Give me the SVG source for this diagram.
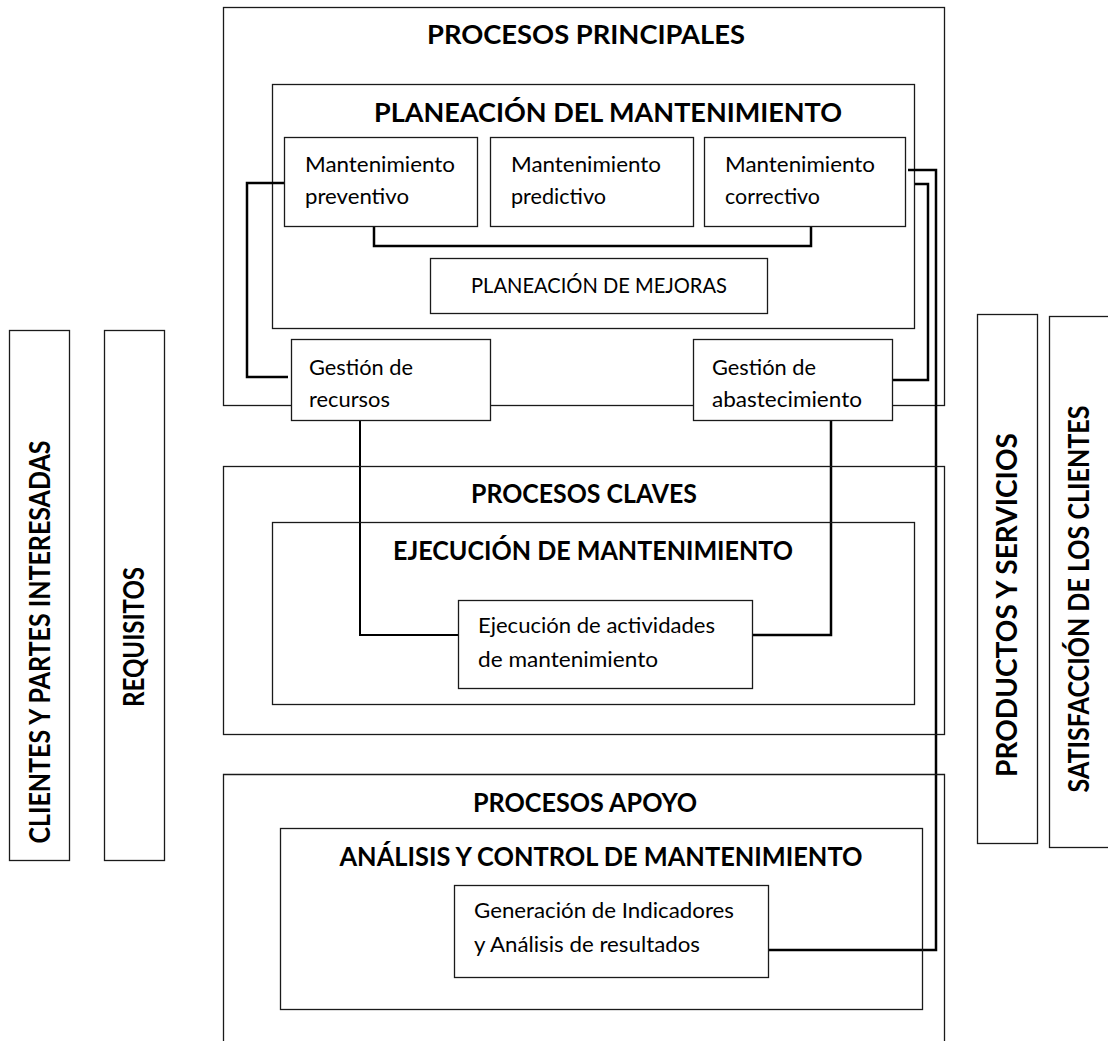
<svg xmlns="http://www.w3.org/2000/svg" width="1108" height="1041" viewBox="0 0 1108 1041">
<style>
.box{fill:#fff;stroke:#1a1a1a;stroke-width:1.3}
.open{fill:none;stroke:#1a1a1a;stroke-width:1.3}
.title{font-family:Lato,"Liberation Sans",sans-serif;font-weight:bold;font-size:26px;fill:#000;text-anchor:middle}
.vt{font-size:28px}
.body{font-family:Lato,"Liberation Sans",sans-serif;font-size:20.5px;fill:#000}
.mid{text-anchor:middle}
.conn{fill:none;stroke:#000;stroke-width:2.5}
.connt{fill:none;stroke:#000;stroke-width:2}
</style>
<rect width="1108" height="1041" fill="#fff"/>

<g id="clientes">
<rect class="box" x="9.5" y="330.5" width="60" height="530"/>
<text class="title vt" transform="translate(50,642) rotate(-90)" textLength="403" lengthAdjust="spacingAndGlyphs">CLIENTES Y PARTES INTERESADAS</text>
</g>
<g id="requisitos">
<rect class="box" x="104.5" y="330.5" width="60" height="530"/>
<text class="title vt" transform="translate(144,637) rotate(-90)" textLength="140" lengthAdjust="spacingAndGlyphs">REQUISITOS</text>
</g>
<g id="productos">
<rect class="box" x="977.5" y="314.5" width="60" height="529"/>
<text class="title vt" transform="translate(1017,605) rotate(-90)" textLength="344" lengthAdjust="spacingAndGlyphs">PRODUCTOS Y SERVICIOS</text>
</g>
<g id="satisfaccion">
<rect class="box" x="1049.5" y="316.5" width="80" height="531"/>
<text class="title vt" transform="translate(1089,599) rotate(-90)" textLength="387" lengthAdjust="spacingAndGlyphs">SATISFACCIÓN DE LOS CLIENTES</text>
</g>

<g id="procesos-principales">
<rect class="box" x="223.5" y="7.5" width="721" height="398"/>
<text class="title" x="586" y="44" textLength="318" lengthAdjust="spacingAndGlyphs">PROCESOS PRINCIPALES</text>
</g>
<g id="planeacion">
<rect class="box" x="272.5" y="84.5" width="642" height="244"/>
<text class="title" x="608" y="122" textLength="468" lengthAdjust="spacingAndGlyphs">PLANEACIÓN DEL MANTENIMIENTO</text>
</g>

<g id="connectors">
<polyline class="conn" points="284,183 247,183 247,377 288,377"/>
<polyline class="conn" points="374,226 374,246 811,246 811,226"/>
<polyline class="conn" points="908,170 936,170 936,950 768,950"/>
<polyline class="conn" points="915,184 928,184 928,380 893,380"/>
<polyline class="connt" points="360,420 360,635 458,635"/>
<polyline class="conn" points="831,420 831,635 752,635"/>
</g>

<g id="mant-preventivo">
<rect class="box" x="284.5" y="137.5" width="193" height="89"/>
<text class="body" x="305" y="172" textLength="150" lengthAdjust="spacingAndGlyphs">Mantenimiento</text>
<text class="body" x="305" y="204" textLength="104" lengthAdjust="spacingAndGlyphs">preventivo</text>
</g>
<g id="mant-predictivo">
<rect class="box" x="490.5" y="137.5" width="203" height="89"/>
<text class="body" x="511" y="172" textLength="150" lengthAdjust="spacingAndGlyphs">Mantenimiento</text>
<text class="body" x="511" y="204" textLength="95" lengthAdjust="spacingAndGlyphs">predictivo</text>
</g>
<g id="mant-correctivo">
<rect class="box" x="704.5" y="137.5" width="201" height="89"/>
<text class="body" x="725" y="172" textLength="150" lengthAdjust="spacingAndGlyphs">Mantenimiento</text>
<text class="body" x="725" y="204" textLength="95" lengthAdjust="spacingAndGlyphs">correctivo</text>
</g>
<g id="planeacion-mejoras">
<rect class="box" x="430.5" y="258.5" width="337" height="55"/>
<text class="body mid" x="599" y="293" textLength="256" lengthAdjust="spacingAndGlyphs">PLANEACIÓN DE MEJORAS</text>
</g>
<g id="gestion-recursos">
<rect class="box" x="291.5" y="339.5" width="199" height="81"/>
<text class="body" x="309" y="375" textLength="104" lengthAdjust="spacingAndGlyphs">Gestión de</text>
<text class="body" x="309" y="407" textLength="81" lengthAdjust="spacingAndGlyphs">recursos</text>
</g>
<g id="gestion-abastecimiento">
<rect class="box" x="693.5" y="339.5" width="199" height="81"/>
<text class="body" x="712" y="375" textLength="104" lengthAdjust="spacingAndGlyphs">Gestión de</text>
<text class="body" x="712" y="407" textLength="150" lengthAdjust="spacingAndGlyphs">abastecimiento</text>
</g>

<g id="procesos-claves">
<rect class="open" x="223.5" y="466.5" width="721" height="268"/>
<text class="title" x="584" y="503" textLength="226" lengthAdjust="spacingAndGlyphs">PROCESOS CLAVES</text>
</g>
<g id="ejecucion">
<rect class="open" x="272.5" y="522.5" width="642" height="182"/>
<text class="title" x="593" y="560" textLength="400" lengthAdjust="spacingAndGlyphs">EJECUCIÓN DE MANTENIMIENTO</text>
</g>
<g id="ejecucion-actividades">
<rect class="box" x="458.5" y="600.5" width="294" height="88"/>
<text class="body" x="478" y="633" textLength="237" lengthAdjust="spacingAndGlyphs">Ejecución de actividades</text>
<text class="body" x="478" y="667" textLength="180" lengthAdjust="spacingAndGlyphs">de mantenimiento</text>
</g>

<g id="procesos-apoyo">
<path class="open" d="M223.5,1041 V774.5 H944.5 V1041"/>
<text class="title" x="585" y="812" textLength="224" lengthAdjust="spacingAndGlyphs">PROCESOS APOYO</text>
</g>
<g id="analisis">
<rect class="open" x="280.5" y="828.5" width="642" height="181"/>
<text class="title" x="601" y="866" textLength="523" lengthAdjust="spacingAndGlyphs">ANÁLISIS Y CONTROL DE MANTENIMIENTO</text>
</g>
<g id="generacion">
<rect class="box" x="454.5" y="885.5" width="314" height="92"/>
<text class="body" x="474" y="918" textLength="260" lengthAdjust="spacingAndGlyphs">Generación de Indicadores</text>
<text class="body" x="474" y="952" textLength="226" lengthAdjust="spacingAndGlyphs">y Análisis de resultados</text>
</g>
</svg>
